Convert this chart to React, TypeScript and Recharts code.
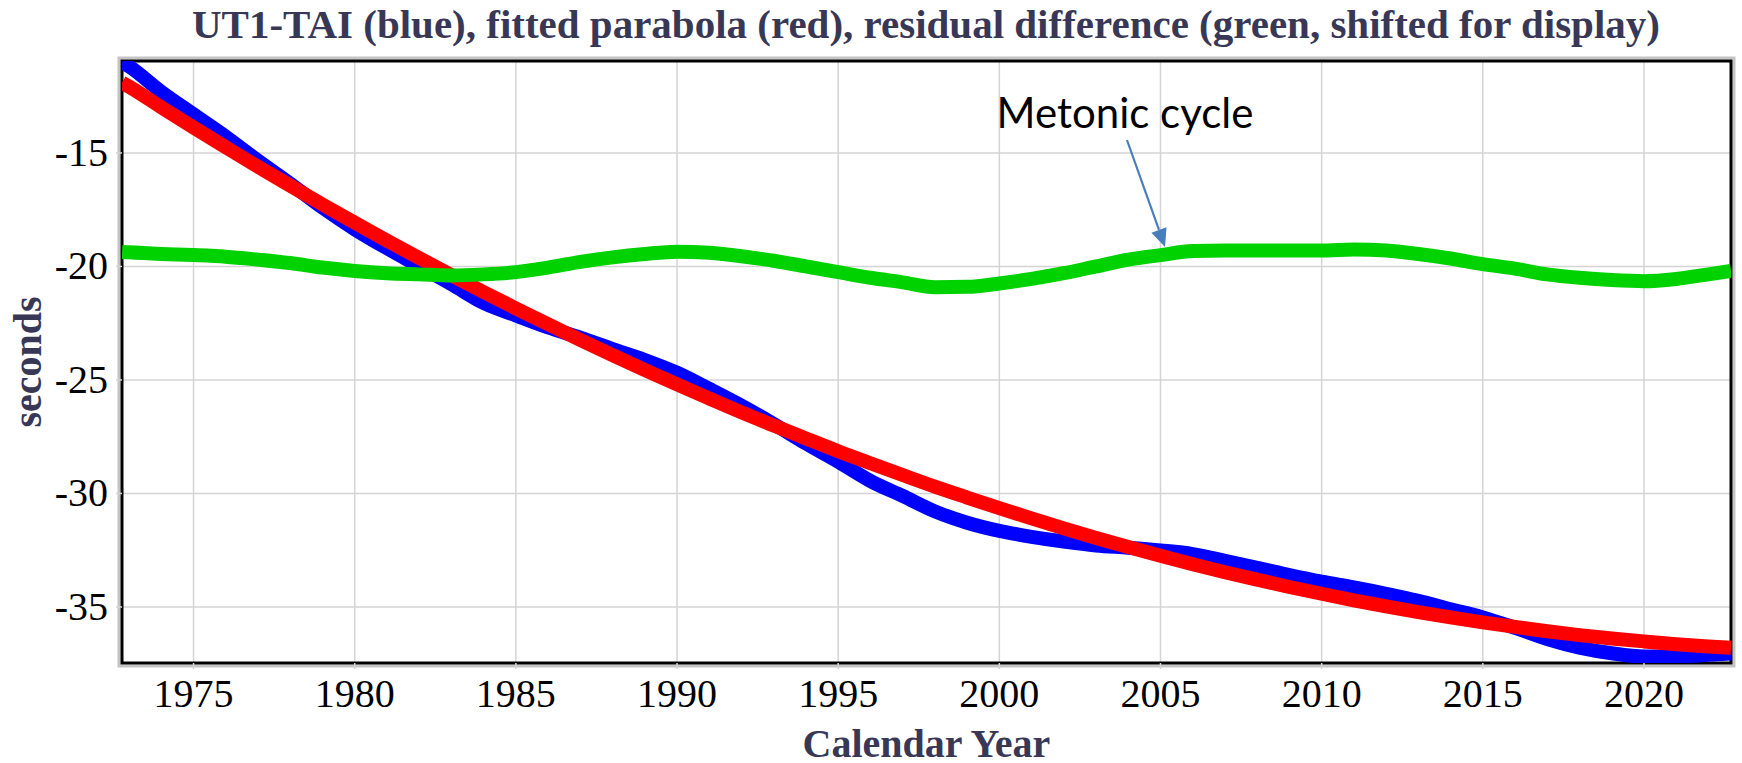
import { LineChart, Line, XAxis, YAxis, CartesianGrid, ReferenceArea, ReferenceLine } from "recharts";

const BLUE = "#0000ff";
const RED = "#ff0000";
const GREEN = "#00d200";
const GRID = "#d4d4d4";
const INK = "#383856";
const ARROW = "#4a7ebb";
const SERIF = "'Liberation Serif', 'Times New Roman', serif";

const X_MIN = 1972.78;
const X_MAX = 2022.7;
const Y_MIN = -37.47;
const Y_MAX = -10.95;

const years = [
  1972.78, 1973, 1974, 1975, 1976, 1977, 1978, 1979, 1980, 1981, 1982, 1983, 1984, 1985, 1986, 1987,
  1988, 1989, 1990, 1991, 1992, 1993, 1994, 1995, 1996, 1997, 1998, 1999, 2000, 2001, 2002, 2003,
  2004, 2005, 2006, 2007, 2008, 2009, 2010, 2011, 2012, 2013, 2014, 2015, 2016, 2017, 2018, 2019,
  2020, 2021, 2022, 2022.7,
];

// UT1-TAI (blue)
const ut1Tai = [
  -11.0, -11.19, -12.31, -13.3, -14.28, -15.34, -16.35, -17.41, -18.36, -19.2, -19.99, -20.78, -21.61, -22.16, -22.69, -23.14,
  -23.64, -24.12, -24.68, -25.39, -26.13, -26.94, -27.8, -28.6, -29.45, -30.11, -30.79, -31.29, -31.65, -31.91, -32.12, -32.29,
  -32.39, -32.51, -32.67, -32.97, -33.28, -33.6, -33.89, -34.14, -34.42, -34.73, -35.1, -35.46, -35.92, -36.41, -36.79, -37.04,
  -37.18, -37.18, -37.11, -37.05,
];

// fitted parabola (red)
const parabola = [
  -11.9, -12.08, -12.99, -13.88, -14.75, -15.61, -16.44, -17.27, -18.07, -18.86, -19.63, -20.39, -21.13, -21.85, -22.55, -23.24,
  -23.91, -24.56, -25.2, -25.82, -26.43, -27.01, -27.58, -28.14, -28.67, -29.19, -29.7, -30.18, -30.65, -31.1, -31.54, -31.96,
  -32.36, -32.75, -33.12, -33.47, -33.8, -34.12, -34.42, -34.71, -34.98, -35.23, -35.46, -35.68, -35.88, -36.07, -36.24, -36.39,
  -36.52, -36.64, -36.74, -36.8,
];

// residual, shifted for display (green)
const residual = [
  -19.36, -19.38, -19.45, -19.5, -19.57, -19.7, -19.85, -20.05, -20.2, -20.3, -20.35, -20.4, -20.35, -20.25, -20.05, -19.8,
  -19.6, -19.45, -19.35, -19.4, -19.55, -19.75, -20.0, -20.25, -20.5, -20.7, -20.92, -20.9, -20.75, -20.55, -20.3, -20.0,
  -19.7, -19.5, -19.32, -19.3, -19.3, -19.3, -19.3, -19.25, -19.3, -19.45, -19.65, -19.9, -20.1, -20.35, -20.5, -20.6,
  -20.65, -20.55, -20.35, -20.2,
];

const xTicks = [1975, 1980, 1985, 1990, 1995, 2000, 2005, 2010, 2015, 2020];
const yTicks = [-35, -30, -25, -20, -15];

// arrow of the annotation, in data units
const arrowFrom = { x: 2003.96, y: -14.43 };
const arrowTo = { x: 2005.14, y: -19.14 };

const data = years.map((year, i) => ({
  year,
  ut1: ut1Tai[i],
  fit: parabola[i],
  res: residual[i],
}));

function YearTick({ x, y, payload }: any) {
  return (
    <text x={x} y={y} dy={38} textAnchor="middle" fontFamily={SERIF} fontSize={40} fill="#000">
      {payload.value}
    </text>
  );
}

function SecTick({ x, y, payload }: any) {
  return (
    <text x={x} y={y} dx={-8} dy={13} textAnchor="end" fontFamily={SERIF} fontSize={40} fill="#000">
      {payload.value}
    </text>
  );
}

function Frame({ x, y, width, height }: any) {
  return (
    <g>
      <rect x={x - 3} y={y - 3} width={width + 6} height={height + 6} fill="none" stroke="#c4c4c4" strokeWidth={3} />
      <rect x={x} y={y} width={width} height={height} fill="none" stroke="#000" strokeWidth={3} />
    </g>
  );
}

function MetonicArrow({ x1, y1, x2, y2 }: any) {
  const a = Math.atan2(y2 - y1, x2 - x1);
  const len = 18;
  const half = 8;
  const bx = x2 - len * Math.cos(a);
  const by = y2 - len * Math.sin(a);
  const nx = -Math.sin(a) * half;
  const ny = Math.cos(a) * half;
  return (
    <g>
      <line x1={x1} y1={y1} x2={bx} y2={by} stroke={ARROW} strokeWidth={2.2} />
      <polygon points={`${x2},${y2} ${bx + nx},${by + ny} ${bx - nx},${by - ny}`} fill={ARROW} />
      <text x={x1 - 2} y={y1 - 12} textAnchor="middle" fontFamily="Lato, 'Open Sans', sans-serif" fontSize={42} fill="#000">
        Metonic cycle
      </text>
    </g>
  );
}

function YLabel({ viewBox }: any) {
  const cx = viewBox.x + 41;
  const cy = viewBox.y + viewBox.height / 2;
  return (
    <text x={cx} y={cy} transform={`rotate(-90 ${cx} ${cy})`} textAnchor="middle" fontFamily={SERIF} fontWeight="bold" fontSize={40} fill={INK}>
      seconds
    </text>
  );
}

function XLabel({ viewBox }: any) {
  return (
    <text x={viewBox.x + viewBox.width / 2} y={757} textAnchor="middle" fontFamily={SERIF} fontWeight="bold" fontSize={40} fill={INK}>
      Calendar Year
    </text>
  );
}

export default function App() {
  return (
    <div style={{ position: "absolute", left: 0, top: 0, width: 1742, height: 763, background: "#fff" }}>
      <LineChart width={1742} height={763} data={data} margin={{ top: 61, right: 11, bottom: 0, left: 0 }}>
        <text x={926} y={38} textAnchor="middle" fontFamily={SERIF} fontWeight="bold" fontSize={41} fill={INK}>
          UT1-TAI (blue), fitted parabola (red), residual difference (green, shifted for display)
        </text>
        <CartesianGrid stroke={GRID} strokeWidth={1.5} />
        <XAxis
          dataKey="year"
          type="number"
          domain={[X_MIN, X_MAX]}
          ticks={xTicks}
          allowDataOverflow
          height={100}
          axisLine={false}
          tickSize={6}
          tickMargin={0}
          tickLine={{ stroke: GRID, strokeWidth: 1.5 }}
          tick={<YearTick />}
          label={<XLabel />}
        />
        <YAxis
          type="number"
          domain={[Y_MIN, Y_MAX]}
          ticks={yTicks}
          allowDataOverflow
          width={122}
          axisLine={false}
          tickSize={6}
          tickMargin={0}
          tickLine={{ stroke: GRID, strokeWidth: 1.5 }}
          tick={<SecTick />}
          label={<YLabel />}
        />
        <Line type="monotone" dataKey="ut1" stroke={BLUE} strokeWidth={14} dot={false} isAnimationActive={false} />
        <Line type="monotone" dataKey="fit" stroke={RED} strokeWidth={14} dot={false} isAnimationActive={false} />
        <Line type="monotone" dataKey="res" stroke={GREEN} strokeWidth={14} dot={false} isAnimationActive={false} />
        <ReferenceLine segment={[arrowFrom, arrowTo]} shape={MetonicArrow} ifOverflow="visible" />
        <ReferenceArea x1={X_MIN} x2={X_MAX} y1={Y_MIN} y2={Y_MAX} shape={Frame} ifOverflow="visible" />
      </LineChart>
    </div>
  );
}
